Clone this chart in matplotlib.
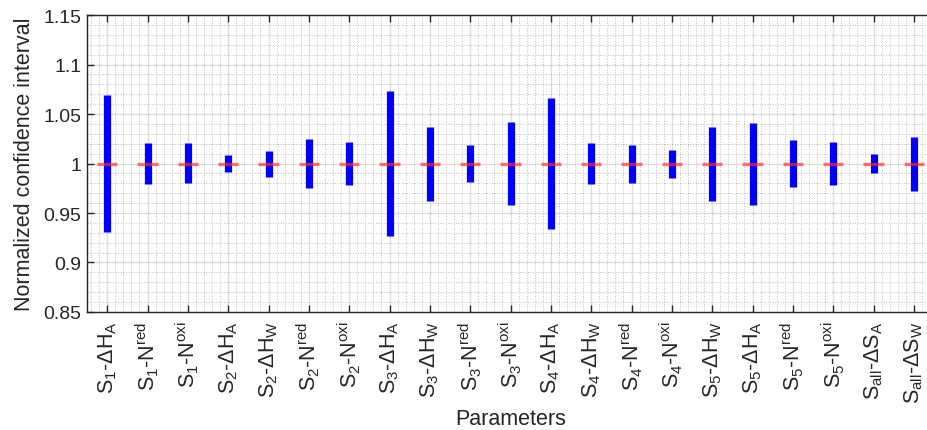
import numpy as np
import matplotlib
matplotlib.use("Agg")
import matplotlib.pyplot as plt
from matplotlib.ticker import MultipleLocator

plt.rcParams['font.family'] = ['Liberation Sans', 'DejaVu Sans']
plt.rcParams['mathtext.fontset'] = 'custom'
plt.rcParams['mathtext.rm'] = 'Liberation Sans'
plt.rcParams['mathtext.it'] = 'Liberation Sans:italic'
plt.rcParams['mathtext.default'] = 'regular'

# parameter labels
labels = [
    r'S$_{1}$-ΔH$_{A}$', r'S$_{1}$-N$^{red}$', r'S$_{1}$-N$^{oxi}$',
    r'S$_{2}$-ΔH$_{A}$', r'S$_{2}$-ΔH$_{W}$', r'S$_{2}$-N$^{red}$', r'S$_{2}$-N$^{oxi}$',
    r'S$_{3}$-ΔH$_{A}$', r'S$_{3}$-ΔH$_{W}$', r'S$_{3}$-N$^{red}$', r'S$_{3}$-N$^{oxi}$',
    r'S$_{4}$-ΔH$_{A}$', r'S$_{4}$-ΔH$_{W}$', r'S$_{4}$-N$^{red}$', r'S$_{4}$-N$^{oxi}$',
    r'S$_{5}$-ΔH$_{W}$', r'S$_{5}$-ΔH$_{A}$', r'S$_{5}$-N$^{red}$', r'S$_{5}$-N$^{oxi}$',
    r'S$_{all}$-ΔS$_{A}$', r'S$_{all}$-ΔS$_{W}$',
]

# normalized confidence interval bounds
upper = [1.069, 1.0207, 1.0204, 1.0083, 1.013, 1.025, 1.0214,
         1.073, 1.037, 1.019, 1.0416, 1.066, 1.021, 1.019,
         1.0139, 1.0372, 1.0412, 1.0234, 1.0217, 1.0096, 1.027]
lower = [0.931, 0.979, 0.980, 0.9917, 0.9864, 0.975, 0.9786,
         0.927, 0.9624, 0.981, 0.958, 0.9335, 0.979, 0.9806,
         0.9857, 0.9624, 0.9584, 0.9763, 0.978, 0.990, 0.9725]
nominal = [1.0] * len(labels)

x = np.arange(1, len(labels) + 1)

fig = plt.figure(figsize=(9.27, 4.31), dpi=100)
ax = fig.add_axes([0.0939, 0.2738, 0.9137, 0.689])

ax.vlines(x, lower, upper, color='blue', lw=5.2, zorder=3)
ax.hlines(nominal, x - 0.25, x + 0.25, color='#ff3030', lw=2.4, alpha=0.65, zorder=4)

ax.set_xlim(0.5, len(labels) + 0.5)
ax.set_ylim(0.85, 1.15)
ax.set_xticks(x)
ax.set_xticklabels(labels, rotation=90, fontsize=15.5, color='#262626')
ax.set_yticks(np.arange(0.85, 1.1501, 0.05))
ax.set_yticklabels(['0.85', '0.9', '0.95', '1', '1.05', '1.1', '1.15'],
                   fontsize=14, color='#262626')
ax.xaxis.set_minor_locator(MultipleLocator(0.2))
ax.yaxis.set_minor_locator(MultipleLocator(0.01))

ax.grid(which='major', color='#262626', alpha=0.15, lw=1)
ax.grid(which='minor', color='#262626', alpha=0.3, lw=0.7, ls=':')
ax.set_axisbelow(True)

ax.tick_params(which='major', direction='in', length=5, width=1,
               top=True, right=True, color='#262626', pad=4)
ax.tick_params(axis='x', which='major', pad=6)
ax.tick_params(which='minor', length=0)
for s in ax.spines.values():
    s.set_color('#262626')
    s.set_linewidth(1)

ax.set_ylabel('Normalized confidence interval', fontsize=15.5, color='#262626', labelpad=6)
ax.set_xlabel('Parameters', fontsize=15.5, color='#262626', labelpad=4)

fig.savefig('out.png', dpi=100)
